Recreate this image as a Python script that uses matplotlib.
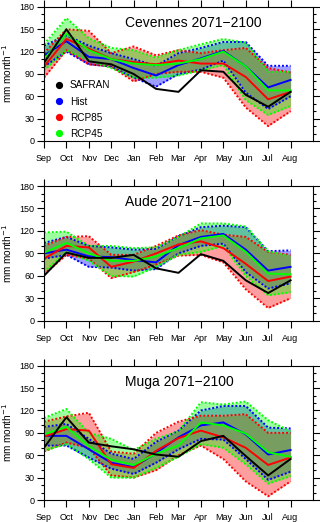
import numpy as np
import matplotlib.pyplot as plt
from matplotlib.lines import Line2D
from matplotlib.ticker import MultipleLocator

plt.rcParams['font.family'] = ['Liberation Sans', 'DejaVu Sans']

months = ['Sep', 'Oct', 'Nov', 'Dec', 'Jan', 'Feb', 'Mar', 'Apr', 'May', 'Jun', 'Jul', 'Aug']
titles = ['Cevennes 2071\u22122100', 'Aude 2071\u22122100', 'Muga 2071\u22122100']

# Cevennes
cev_safran = [105, 150, 107, 103, 90, 70, 66, 95, 93, 62, 46, 66]
cev_hist = [115, 134, 113, 110, 98, 88, 102, 111, 121, 100, 72, 82]
cev_hist_hi = [128, 142, 128, 118, 110, 101, 118, 125, 133, 133, 101, 101]
cev_hist_lo = [100, 120, 103, 100, 85, 73, 90, 96, 108, 65, 43, 60]
cev_rcp85 = [100, 137, 124, 110, 106, 103, 108, 104, 104, 86, 56, 66]
cev_rcp85_hi = [118, 150, 148, 118, 127, 115, 122, 118, 122, 125, 98, 92]
cev_rcp85_lo = [85, 122, 103, 100, 80, 90, 93, 93, 85, 45, 20, 40]
cev_rcp45 = [110, 144, 122, 110, 104, 102, 104, 110, 120, 100, 68, 68]
cev_rcp45_hi = [130, 165, 138, 125, 122, 112, 122, 130, 137, 132, 93, 93]
cev_rcp45_lo = [95, 122, 108, 98, 85, 85, 88, 95, 102, 55, 35, 47]

# Aude
aud_safran = [60, 91, 84, 84, 88, 70, 64, 89, 80, 54, 37, 54]
aud_hist = [90, 95, 86, 85, 81, 78, 101, 112, 116, 95, 67, 72]
aud_hist_hi = [104, 112, 100, 98, 95, 96, 113, 125, 127, 125, 93, 94]
aud_hist_lo = [83, 88, 72, 71, 67, 69, 90, 100, 103, 65, 43, 50]
aud_rcp85 = [83, 100, 98, 72, 79, 90, 102, 106, 97, 76, 53, 59]
aud_rcp85_hi = [100, 112, 113, 88, 88, 100, 114, 121, 115, 112, 92, 88]
aud_rcp85_lo = [62, 88, 83, 57, 65, 75, 87, 88, 78, 42, 17, 30]
aud_rcp45 = [91, 104, 90, 80, 80, 86, 97, 110, 114, 92, 63, 62]
aud_rcp45_hi = [118, 119, 100, 100, 97, 98, 112, 130, 130, 126, 93, 86]
aud_rcp45_lo = [65, 92, 80, 60, 59, 72, 88, 92, 100, 60, 34, 38]

# Muga
mug_safran = [70, 111, 77, 72, 68, 61, 58, 79, 86, 59, 33, 55]
mug_hist = [86, 86, 68, 50, 44, 63, 84, 100, 104, 88, 61, 67]
mug_hist_hi = [98, 102, 82, 62, 55, 78, 93, 120, 126, 126, 97, 96]
mug_hist_lo = [73, 73, 57, 42, 35, 50, 68, 82, 81, 55, 27, 38]
mug_rcp85 = [85, 95, 93, 48, 43, 66, 83, 93, 84, 70, 47, 57]
mug_rcp85_hi = [105, 112, 117, 65, 62, 90, 105, 113, 113, 115, 90, 90]
mug_rcp85_lo = [65, 77, 70, 33, 30, 40, 60, 73, 55, 25, 5, 25]
mug_rcp45 = [88, 98, 72, 54, 47, 62, 73, 104, 100, 89, 64, 58]
mug_rcp45_hi = [110, 122, 90, 82, 67, 82, 92, 131, 128, 132, 107, 92]
mug_rcp45_lo = [66, 75, 55, 30, 30, 43, 58, 75, 70, 48, 22, 32]

panels = [
    (cev_safran, [(cev_hist, cev_hist_hi, cev_hist_lo), (cev_rcp85, cev_rcp85_hi, cev_rcp85_lo), (cev_rcp45, cev_rcp45_hi, cev_rcp45_lo)]),
    (aud_safran, [(aud_hist, aud_hist_hi, aud_hist_lo), (aud_rcp85, aud_rcp85_hi, aud_rcp85_lo), (aud_rcp45, aud_rcp45_hi, aud_rcp45_lo)]),
    (mug_safran, [(mug_hist, mug_hist_hi, mug_hist_lo), (mug_rcp85, mug_rcp85_hi, mug_rcp85_lo), (mug_rcp45, mug_rcp45_hi, mug_rcp45_lo)]),
]
colors = ['#0000ff', '#ff0000', '#00ff00']
labels = ['SAFRAN', 'Hist', 'RCP85', 'RCP45']

fig = plt.figure(figsize=(3.2, 5.22), dpi=100)
positions = [[0.1375, 0.7299, 0.8406, 0.2567],
             [0.1375, 0.3856, 0.8406, 0.2580],
             [0.1375, 0.0421, 0.8406, 0.2573]]
x = np.arange(len(months))

for i, (safran, scen) in enumerate(panels):
    ax = fig.add_axes(positions[i])
    for (mean, hi, lo), c in zip(scen, colors):
        ax.fill_between(x, lo, hi, color=c, alpha=0.38, lw=0)
        ax.plot(x, hi, color=c, lw=1.4, ls=(0, (1, 1)))
        ax.plot(x, lo, color=c, lw=1.4, ls=(0, (1, 1)))
    for (mean, hi, lo), c in zip(scen, colors):
        ax.plot(x, mean, color=c, lw=1.4)
    ax.plot(x, safran, color='black', lw=1.4)

    ax.set_xlim(0, 12)
    ax.set_ylim(0, 180)
    ax.set_xticks(x)
    ax.set_xticklabels(months)
    ax.yaxis.set_major_locator(MultipleLocator(30))
    ax.yaxis.set_minor_locator(MultipleLocator(10))
    ax.tick_params(axis='both', which='both', direction='out', top=True, right=True,
                   labelsize=6.5, width=0.8)
    ax.tick_params(axis='x', which='major', length=5, pad=4.5)
    ax.tick_params(axis='y', which='major', length=5, pad=2)
    ax.tick_params(axis='y', which='minor', length=2.5)
    for sp in ax.spines.values():
        sp.set_linewidth(0.8)
    ax.set_ylabel('mm month$^{-1}$', fontsize=7.2)
    ax.yaxis.set_label_coords(-0.11, 0.5)
    ax.text(0.30, 0.88, titles[i], transform=ax.transAxes, fontsize=10,
            ha='left', va='center')

    if i == 0:
        handles = [Line2D([], [], ls='', marker='o', ms=4.2, color=c)
                   for c in ['black'] + colors]
        ax.legend(handles, labels, loc='upper left', bbox_to_anchor=(0.02, 0.49),
                  frameon=False, fontsize=7.2, handlelength=1.0, handletextpad=0.55,
                  labelspacing=0.62, borderpad=0)

plt.savefig('out.png', dpi=100)
